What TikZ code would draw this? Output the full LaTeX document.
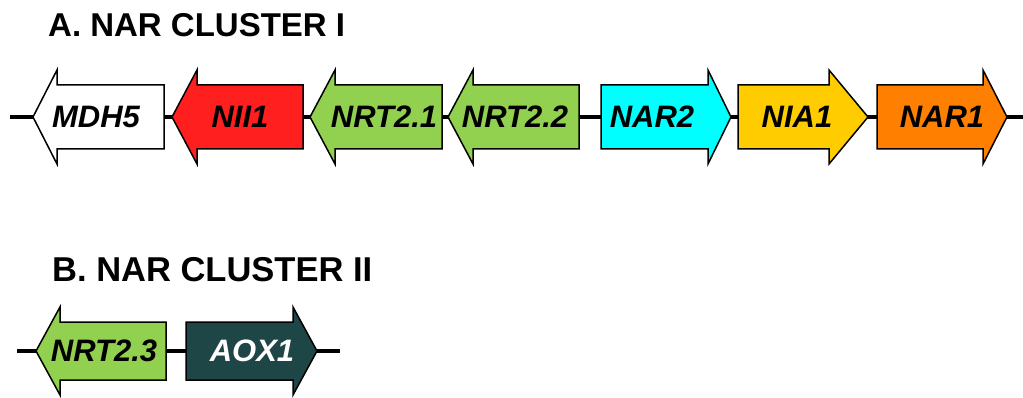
\documentclass[tikz,border=0pt]{standalone}
\usepackage{fontspec}
\setmainfont{Liberation Sans}
\definecolor{gRed}{HTML}{FF1F1F}
\definecolor{gGreen}{HTML}{92D050}
\definecolor{gCyan}{HTML}{00FFFF}
\definecolor{gGold}{HTML}{FFCC00}
\definecolor{gOrange}{HTML}{FF8000}
\definecolor{gTeal}{HTML}{1F4646}
% left-pointing gene: tip, base, right, y, body half, head half, fill
\newcommand\geneLeft[7]{%
  \draw[genebox, fill=#7] (#1,#4) -- (#2,#4+#6) -- (#2,#4+#5) -- (#3,#4+#5)
    -- (#3,#4-#5) -- (#2,#4-#5) -- (#2,#4-#6) -- cycle;}
% right-pointing gene: left, base, tip, y, body half, head half, fill
\newcommand\geneRight[7]{%
  \draw[genebox, fill=#7] (#3,#4) -- (#2,#4+#6) -- (#2,#4+#5) -- (#1,#4+#5)
    -- (#1,#4-#5) -- (#2,#4-#5) -- (#2,#4-#6) -- cycle;}
\begin{document}
\begin{tikzpicture}[x=1pt,y=1pt,
  genebox/.style={draw=black, line width=1.5pt, line join=miter},
  backbone/.style={draw=black, line width=3.2pt},
  title/.style={font=\fontsize{33}{38}\selectfont\bfseries, anchor=base west, inner sep=0pt},
  genelabel/.style={font=\fontsize{31}{35}\selectfont\bfseries\itshape, inner sep=0pt, anchor=center}]
\useasboundingbox (0,0) rectangle (1023,-398);

\node[title] (tA) at (48,-37) {A. NAR CLUSTER I};
\node[title, font=\fontsize{34.5}{40}\selectfont\bfseries] (tB) at (52,-281) {B. NAR CLUSTER II};

% Cluster I backbone
\coordinate (aL) at (10,-117);
\coordinate (aR) at (1023,-117);
\draw[backbone] (aL) -- (aR);

\geneLeft{33}{57}{164}{-117}{32}{47}{white}
\geneLeft{172}{197}{303}{-117}{32}{47}{gRed}
\geneLeft{310}{335}{442}{-117}{32}{47}{gGreen}
\geneLeft{448}{473}{579}{-117}{32}{47}{gGreen}
\geneRight{601}{708}{731}{-117}{32}{47}{gCyan}
\geneRight{738}{829}{868}{-117}{32}{47}{gGold}
\geneRight{877}{983}{1007}{-117}{32}{47}{gOrange}

\node[genelabel] (mdh5) at (96,-117) {MDH5};
\node[genelabel] (nii1) at (240,-117) {NII1};
\node[genelabel] (nrt21) at (384,-117) {NRT2.1};
\node[genelabel] (nrt22) at (515,-117) {NRT2.2};
\node[genelabel] (nar2) at (652,-117) {NAR2};
\node[genelabel] (nia1) at (797,-117) {NIA1};
\node[genelabel] (nar1) at (942,-117) {NAR1};

% Cluster II backbone
\coordinate (bL) at (17,-351);
\coordinate (bR) at (340,-351);
\draw[backbone] (bL) -- (bR);

\geneLeft{36}{60}{166}{-351}{29}{44}{gGreen}
\geneRight{186}{293}{317}{-351}{29}{44}{gTeal}

\node[genelabel] (nrt23) at (104,-351) {NRT2.3};
\node[genelabel, text=white] (aox1) at (252,-351) {AOX1};
\end{tikzpicture}
\end{document}
